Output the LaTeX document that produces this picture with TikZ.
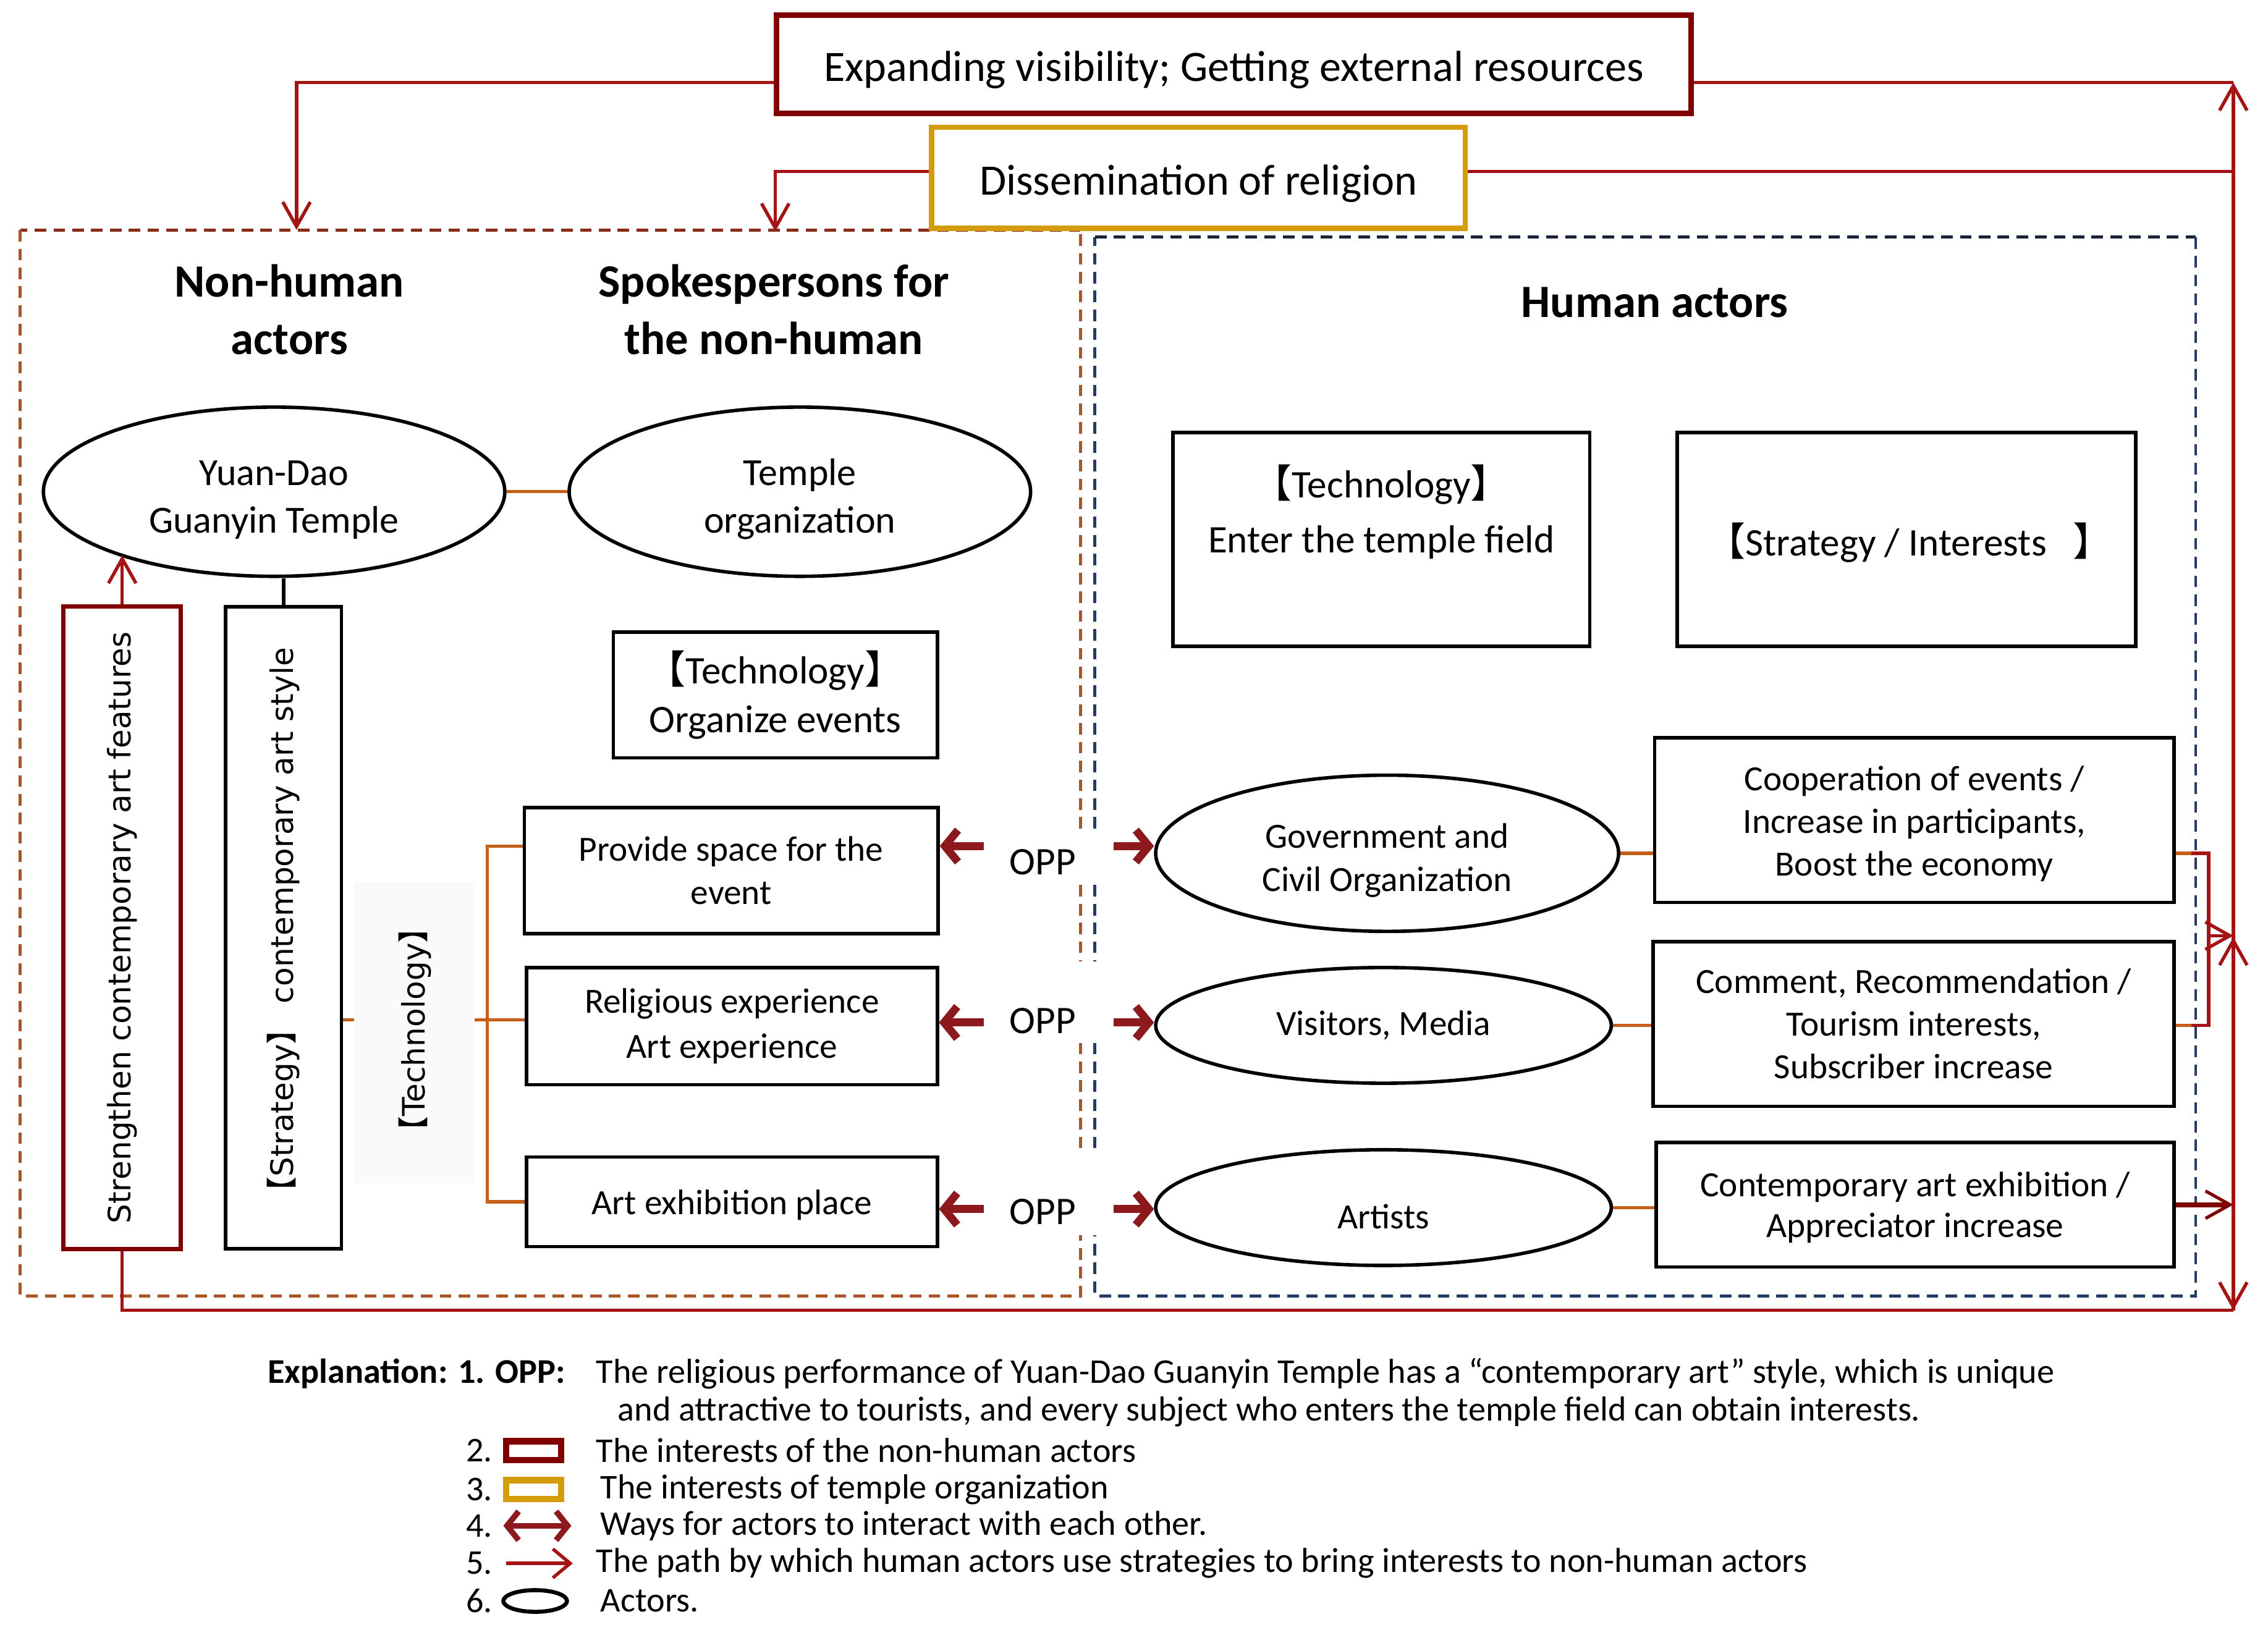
\documentclass[tikz,border=0pt]{standalone}
\usepackage{fontspec}
\setmainfont{Carlito}
\newfontfamily\vfont{DejaVu Sans}
\newfontfamily\cjk{Noto Sans CJK SC}
\usetikzlibrary{shapes.geometric,arrows.meta}
\definecolor{dkred}{RGB}{128,0,0}
\definecolor{lred}{RGB}{165,20,20}
\definecolor{gold}{RGB}{212,155,10}
\definecolor{orng}{RGB}{197,95,25}
\definecolor{brn}{RGB}{170,85,40}
\definecolor{brntop}{RGB}{135,45,25}
\definecolor{navy}{RGB}{35,60,100}
\definecolor{navytop}{RGB}{25,35,55}
\definecolor{oppred}{RGB}{140,25,30}
\newcommand\fs[2]{\fontsize{#1}{#2}\selectfont}
\newcommand\lb{{\cjk 【}}
\newcommand\rb{{\cjk 】}}
\newcommand\dn[2]{\raisebox{-#1}[\height][\depth]{#2}}
\begin{document}
\begin{tikzpicture}[x=1pt,y=-1pt,
 box/.style={draw=black, line width=2.4pt, inner sep=0pt, align=center, font=\fs{24.5}{30}},
 ell/.style={ellipse, draw=black, line width=2.4pt, inner sep=0pt, align=center, font=\fs{24.5}{30}},
 hdr/.style={font=\bfseries\fs{32}{40}, align=center},
 rl/.style={draw=lred, line width=2.3pt},
 ol/.style={draw=orng, line width=2.2pt},
 rbarb/.style={-{Straight Barb[length=17pt,width=19pt]}},
 oppar/.style={draw=oppred, line width=5.5pt, -{Straight Barb[length=9pt,width=22pt]}},
 vtxt/.style={rotate=90, font=\vfont\fs{21.4}{26}},
 lg/.style={anchor=west, font=\fs{24}{28}, inner sep=0pt},
 lframe/.style={draw=brn, line width=2pt, dash pattern=on 8pt off 5pt},
 ltop/.style={draw=brntop, line width=2.2pt, dash pattern=on 8pt off 5pt},
 rframe/.style={draw=navy, line width=2pt, dash pattern=on 8pt off 5pt},
 rtopf/.style={draw=navytop, line width=2.2pt, dash pattern=on 8pt off 5pt},
]
\fill[white] (0,0) rectangle (1568,1127);
\useasboundingbox (0,0) rectangle (1568,1127);

% dashed frames
\draw[lframe] (747,573) -- (747,159);
\draw[ltop] (747,159) -- (14,159);
\draw[lframe] (14,159) -- (14,896) -- (747,896) -- (747,854);
\draw[lframe] (747,612) -- (747,665);
\draw[lframe] (747,721) -- (747,794);
\draw[rframe] (757,573) -- (757,164);
\draw[rtopf] (757,164) -- (1518,164);
\draw[rframe] (1518,164) -- (1518,896) -- (757,896) -- (757,854);
\draw[rframe] (757,612) -- (757,665);
\draw[rframe] (757,721) -- (757,794);

% top boxes
\node[draw=dkred, line width=3.8pt, minimum width=632, minimum height=68, inner sep=0pt, font=\fs{30}{36}] (vis) at (853,44.5) {\dn{4pt}{Expanding visibility; Getting external resources}};
\node[draw=gold, line width=3.8pt, minimum width=369, minimum height=70, inner sep=0pt, font=\fs{30}{36}] (dis) at (828.5,123) {\dn{4pt}{Dissemination of religion}};

% headers
\node[hdr] (hnh) at (200,214) {Non-human\\actors};
\node[hdr] (hsp) at (535,214) {Spokespersons for\\the non-human};
\node[hdr] (hha) at (1144,209) {Human actors};

% left ellipses
\node[ell, font=\fs{26.5}{33}, minimum width=319, minimum height=117] (yuan) at (189.5,340) {\rule{0pt}{28.5pt}Yuan-Dao\\Guanyin Temple};
\node[ell, font=\fs{26.5}{33}, minimum width=319, minimum height=117] (torg) at (553,340) {\rule{0pt}{28.5pt}Temple\\organization};

% vertical boxes
\node[draw=dkred, line width=3pt, minimum width=81, minimum height=444, inner sep=0pt] (strn) at (84.5,641.5) {};
\node[vtxt] (strnT) at (strn.center) {Strengthen contemporary art features};
\node[draw=black, line width=2.4pt, minimum width=80, minimum height=444, inner sep=0pt] (strat) at (196,641.5) {};
\node[vtxt] (stratT) at (strat.center) {\lb Strategy\rb\ contemporary art style};
\node[fill=black!2, minimum width=83, minimum height=208, inner sep=0pt] (tech) at (286.5,714) {};
\node[vtxt] (techT) at (287,712) {\lb Technology\rb};

% middle boxes
\node[box, font=\fs{27}{34}, minimum width=224, minimum height=87] (torgz) at (536,480.5) {\rule{0pt}{22pt}\lb Technology\rb\\Organize events};
\node[box, minimum width=286, minimum height=87] (prov) at (505.5,602) {Provide space for the\\event};
\node[box, font=\fs{24.5}{31.5}, minimum width=284, minimum height=81] (rel) at (506,709.5) {Religious experience\\Art experience};
\node[box, minimum width=284, minimum height=62] (art) at (506,831) {\dn{2pt}{Art exhibition place}};

% right column
\node[box, minimum width=288, minimum height=148] (tent) at (955,373) {};
\node[font=\fs{27}{38}, align=center] (tentT) at (955,354) {\lb Technology\rb\\Enter the temple field};
\node[box, minimum width=317, minimum height=148] (sint) at (1318,373) {};
\node[font=\fs{27}{34}] (sintT) at (1320,375) {\lb Strategy / Interests~~~\rb};

\node[ell, minimum width=320, minimum height=108] (gov) at (959,590) {\rule{0pt}{27pt}Government and\\Civil Organization};
\node[ell, minimum width=315, minimum height=80] (vism) at (956.5,709) {Visitors, Media};
\node[ell, minimum width=315, minimum height=80] (arts) at (956.5,835) {\dn{6pt}{Artists}};

\node[box, font=\fs{24.5}{29.5}, minimum width=359, minimum height=114] (coop) at (1323.5,567) {\rule{0pt}{22pt}Cooperation of events /\\Increase in participants,\\Boost the economy};
\node[box, font=\fs{24.5}{29.5}, minimum width=360, minimum height=114] (comm) at (1323,708) {Comment, Recommendation /\\Tourism interests,\\Subscriber increase};
\node[box, font=\fs{24.5}{28}, minimum width=358, minimum height=86] (cont) at (1324,833) {\rule{0pt}{21pt}Contemporary art exhibition /\\Appreciator increase};

% OPP
\node[font=\fs{27}{30}] (o1) at (721,596) {OPP};
\node[font=\fs{27}{30}] (o2) at (721,706) {OPP};
\node[font=\fs{27}{30}] (o3) at (721,838) {OPP};
\coordinate (o1l) at (680,585); \coordinate (o1r) at (770,585);
\coordinate (o2l) at (680,707); \coordinate (o2r) at (770,707);
\coordinate (o3l) at (680,836); \coordinate (o3r) at (770,836);
\draw[oppar] (o1l) -- (prov.east |- o1l);
\draw[oppar] (o1r) -- (gov.west |- o1r);
\draw[oppar] (o2l) -- (rel.east |- o2l);
\draw[oppar] (o2r) -- (vism.west |- o2r);
\draw[oppar] (o3l) -- (art.east |- o3l);
\draw[oppar] (o3r) -- (arts.west |- o3r);

% orange connectors
\draw[ol] (yuan.east) -- (torg.west);
\draw[ol] (gov.east) -- (gov.east -| coop.west);
\draw[ol] (vism.east) -- (vism.east -| comm.west);
\draw[ol] (arts.east) -- (arts.east -| cont.west);
\coordinate (bk) at (337,705);
\draw[ol] (strat.east |- bk) -- (bk -| tech.west);
\draw[ol] (bk -| tech.east) -- (bk -| rel.west);
\draw[ol] ([yshift=17pt]prov.west) -| (bk) |- (art.west);

% red paths
\coordinate (nhA) at (205,159);
\coordinate (spA) at (536,160);
\coordinate (rtop) at (1544,57);
\coordinate (rbot) at (1544,906);
\coordinate (rmid) at (1544,648);
\coordinate (rmidb) at (1544,680);
\coordinate (rbotb) at (1544,880);
\draw[rl, rbarb] ([yshift=-12.5pt]vis.west) -| (nhA);
\draw[rl, rbarb] ([yshift=4.5pt]dis.west) -| (spA);
\draw[rl] ([yshift=-12.5pt]vis.east) -- (rtop);
\draw[rl] ([yshift=4.5pt]dis.east) -- ([yshift=4.5pt]dis.east -| rtop);
\draw[rl, rbarb] (rbot) -- (rtop);
\draw[rl, rbarb] (rmidb) -- (rmid);
\draw[rl, rbarb] (rbotb) -- (rbot);
\draw[rl] (strn.south) |- (rbot);
\draw[rl, rbarb] (strn.north) -- (yuan.202.6 -| strn.north);
\draw[black, line width=2.4pt] (strat.north) -- (strat.north |- yuan.south);

\coordinate (bx) at (1527,647);
\draw[rl] (coop.east |- gov.east) -| (bx) |- (comm.east |- vism.east);
\draw[ol] (coop.east |- gov.east) -- ++(11,0);
\draw[ol] (comm.east |- vism.east) -- ++(11,0);
\draw[rl, rbarb] (bx) -- (bx -| rtop);
\draw[draw=dkred, line width=3.5pt, -{Straight Barb[length=17pt,width=19pt,line width=2.2pt]}] (cont.east) -- (cont.east -| rtop);

% legend
\node[lg, font=\bfseries\fs{24}{28}] (ex) at (185,950) {Explanation: 1. OPP:};
\node[lg] (ex1) at (412,950) {The religious performance of Yuan-Dao Guanyin Temple has a “contemporary art” style, which is unique};
\node[lg] (ex1b) at (427,976) {and attractive to tourists, and every subject who enters the temple field can obtain interests.};
\node[lg] (n2) at (322,1003) {2.};
\node[lg] (t2) at (412,1003) {The interests of the non-human actors};
\node[lg] (n3) at (322,1030) {3.};
\node[lg] (t3) at (415,1030) {The interests of temple organization};
\node[lg] (n4) at (322,1055) {4.};
\node[lg] (t4) at (415,1055) {Ways for actors to interact with each other.};
\node[lg] (n5) at (322,1081) {5.};
\node[lg] (t5) at (412,1081) {The path by which human actors use strategies to bring interests to non-human actors};
\node[lg] (n6) at (322,1107) {6.};
\node[lg] (t6) at (415,1107) {Actors.};
\node[draw=dkred, line width=4.5pt, fill=white, minimum width=38, minimum height=13, inner sep=0pt] (i2) at (369,1003) {};
\node[draw=gold, line width=4.5pt, fill=white, minimum width=38, minimum height=13, inner sep=0pt] (i3) at (369,1030) {};
\coordinate (i4a) at (348,1055); \coordinate (i4b) at (395,1055);
\draw[draw=oppred, line width=4pt, {Straight Barb[length=8pt,width=20pt]}-{Straight Barb[length=8pt,width=20pt]}] (i4a) -- (i4b);
\coordinate (i5a) at (350,1081); \coordinate (i5b) at (396,1081);
\draw[rl, -{Straight Barb[length=12pt,width=20pt]}] (i5a) -- (i5b);
\node[ellipse, draw=black, line width=2.8pt, minimum width=44, minimum height=15, inner sep=0pt] (i6) at (370,1107) {};
\end{tikzpicture}
\end{document}
